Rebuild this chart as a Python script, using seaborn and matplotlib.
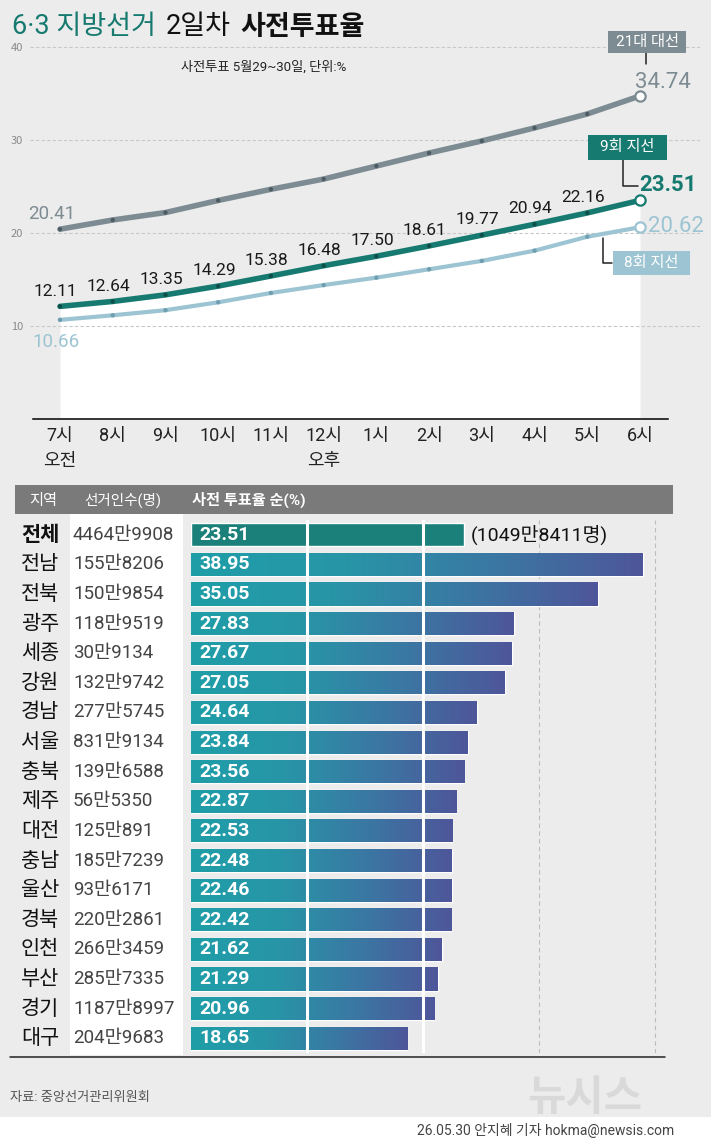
import numpy as np
import pandas as pd
import matplotlib
matplotlib.use("Agg")
import matplotlib.pyplot as plt
import seaborn as sns
from matplotlib import font_manager
from matplotlib.lines import Line2D
from matplotlib.patches import Rectangle
from matplotlib.colors import LinearSegmentedColormap
import matplotlib.transforms as mtrans

# ---------------- data ----------------
hours = ["7시", "8시", "9시", "10시", "11시", "12시", "1시", "2시", "3시", "4시", "5시", "6시"]
local9 = [12.11, 12.64, 13.35, 14.29, 15.38, 16.48, 17.50, 18.61, 19.77, 20.94, 22.16, 23.51]
pres21 = [20.41, 21.4, 22.2, 23.5, 24.7, 25.8, 27.2, 28.6, 29.9, 31.3, 32.8, 34.74]
local8 = [10.66, 11.15, 11.7, 12.55, 13.55, 14.4, 15.2, 16.1, 17.0, 18.1, 19.6, 20.62]
series_names = ["21대 대선", "8회 지선", "9회 지선"]

regions = ["전체", "전남", "전북", "광주", "세종", "강원", "경남", "서울", "충북",
           "제주", "대전", "충남", "울산", "경북", "인천", "부산", "경기", "대구"]
voters = ["4464만9908", "155만8206", "150만9854", "118만9519", "30만9134", "132만9742",
          "277만5745", "831만9134", "139만6588", "56만5350", "125만891", "185만7239",
          "93만6171", "220만2861", "266만3459", "285만7335", "1187만8997", "204만9683"]
rates = [23.51, 38.95, 35.05, 27.83, 27.67, 27.05, 24.64, 23.84, 23.56,
         22.87, 22.53, 22.48, 22.46, 22.42, 21.62, 21.29, 20.96, 18.65]
total_voted = "(1049만8411명)"

# ---------------- style ----------------
sns.set_style("white")
avail = {f.name for f in font_manager.fontManager.ttflist}
cjk = [n for n in ["Noto Sans CJK KR", "Noto Sans CJK JP", "Noto Sans CJK SC",
                   "Noto Sans CJK TC"] if n in avail]
if not cjk:
    cjk = sorted(n for n in avail if "CJK" in n)
if not cjk:
    cjk = ["Noto Sans CJK KR"]
cjk = cjk[:1]
latin = [n for n in ["Liberation Sans Narrow", "Roboto", "Liberation Sans"] if n in avail][:1]
KR = cjk + ["DejaVu Sans"]
NARROW = latin + cjk + ["DejaVu Sans"]
plt.rcParams["font.family"] = KR
plt.rcParams["axes.unicode_minus"] = False

BG = "#ececec"
TEAL = "#177a70"
GRAY = "#7d8c92"
LBLUE = "#9cc4d2"

W, H = 711, 1146
fig = plt.figure(figsize=(W / 100, H / 100), dpi=100, facecolor=BG)


def fx(px):
    return px / W


def fy(py):
    return 1 - py / H


# ---------------- line chart ----------------
X0, STEP, YPU = 60, 580 / 11, 9.3
ax1 = fig.add_axes([fx(30), fy(419), fx(700) - fx(30), fy(30) - fy(419)])
ax1.patch.set_alpha(0)

pos = list(range(len(hours)))
ldf = pd.DataFrame({"pos": pos * 3,
                    "series": np.repeat(series_names, len(hours)),
                    "value": pres21 + local8 + local9})

ax1.fill_between(pos, 0, local9, color="white", lw=0, zorder=1)
for v in [10, 20, 30, 40]:
    ax1.axhline(v, color="#c8c8c8", ls=(0, (3, 2)), lw=0.8, zorder=1.5)

styles = {"21대 대선": (GRAY, 4.0, "#4d5c62"),
          "8회 지선": (LBLUE, 3.0, "#6e9fb1"),
          "9회 지선": (TEAL, 4.0, "#0d4f48")}
for name in series_names:
    col, lw, dot = styles[name]
    sub = ldf[ldf["series"] == name]
    sns.lineplot(data=sub, x="pos", y="value", color=col, linewidth=lw,
                 ax=ax1, zorder=3, legend=False, sort=False)
    sns.scatterplot(data=sub.iloc[:-1], x="pos", y="value", color=dot, s=10,
                    edgecolor="none", ax=ax1, zorder=4, legend=False)
    sns.scatterplot(data=sub.iloc[-1:], x="pos", y="value", color="white", s=55,
                    edgecolor=col, linewidth=1.6, ax=ax1, zorder=5, legend=False)

ax1.set_xlim((30 - X0) / STEP, (700 - X0) / STEP)
ax1.set_ylim(0, (419 - 30) / YPU)
for s in ["top", "right", "left"]:
    ax1.spines[s].set_visible(False)
ax1.spines["bottom"].set_bounds((33 - X0) / STEP, (668 - X0) / STEP)
ax1.spines["bottom"].set_color("black")
ax1.spines["bottom"].set_linewidth(1.1)
ax1.set_xticks(pos)
ax1.set_xticklabels(hours, fontfamily=NARROW, fontsize=13, color="#222222")
ax1.tick_params(axis="x", direction="in", length=6, width=1, pad=6, color="black")
ax1.set_yticks([10, 20, 30, 40])
ax1.set_yticklabels(["10", "20", "30", "40"], fontsize=8, color="#8a8a8a")
ax1.tick_params(axis="y", length=0, pad=5)
ax1.set_xlabel("")
ax1.set_ylabel("")

for i, v in enumerate(local9[:-1]):
    ax1.annotate(f"{v:.2f}", (i, v), xytext=(-3, 11), textcoords="offset points",
                 ha="center", va="center", fontsize=12.5, family=NARROW,
                 color="#1a1a1a", zorder=6)

tr1 = mtrans.blended_transform_factory(ax1.transData, fig.transFigure)
fig.text(0, fy(461), "오전", transform=tr1, ha="center", va="center",
         fontsize=13, color="#222222")
fig.text(5, fy(461), "오후", transform=tr1, ha="center", va="center",
         fontsize=13, color="#222222")

# end & start labels
fig.text(fx(52), fy(214), f"{pres21[0]:.2f}", ha="center", va="center",
         fontsize=13.5, family=NARROW, color=GRAY)
fig.text(fx(56), fy(342), f"{local8[0]:.2f}", ha="center", va="center",
         fontsize=13.5, family=NARROW, color=LBLUE)
fig.text(fx(663), fy(82), f"{pres21[-1]:.2f}", ha="center", va="center",
         fontsize=16, family=NARROW, color=GRAY)
fig.text(fx(668), fy(185), f"{local9[-1]:.2f}", ha="center", va="center",
         fontsize=16, family=NARROW, color=TEAL, fontweight="bold")
fig.text(fx(676), fy(226), f"{local8[-1]:.2f}", ha="center", va="center",
         fontsize=16, family=NARROW, color=LBLUE)

# legend boxes
def tag(xc, yc, text, color, w, h):
    fig.patches.append(Rectangle((fx(xc - w / 2), fy(yc + h / 2)), w / W, h / H,
                                 transform=fig.transFigure, facecolor=color,
                                 edgecolor="none", zorder=5))
    fig.text(fx(xc), fy(yc), text, ha="center", va="center", fontsize=11,
             family=NARROW, color="white", zorder=6)


tag(647, 42, series_names[0], GRAY, 78, 22)
tag(627, 147, series_names[2], TEAL, 79, 25)
tag(651, 263, series_names[1], LBLUE, 77, 24)


def seg(pts, color="#222222", lw=1.1):
    xs = [fx(p[0]) for p in pts]
    ys = [fy(p[1]) for p in pts]
    fig.lines.append(Line2D(xs, ys, transform=fig.transFigure, color=color, lw=lw))


seg([(646, 53), (646, 64)])
seg([(623, 160), (623, 186), (638, 186)])
seg([(603, 238), (603, 263), (612, 263)])

# title
fig.text(fx(12), fy(27), "6·3 지방선거", ha="left", va="center", fontsize=19.5,
         family=NARROW, color=TEAL)
fig.text(fx(166), fy(27), "2일차", ha="left", va="center", fontsize=19.5,
         family=NARROW, color="#111111")
fig.text(fx(240), fy(27), "사전투표율", ha="left", va="center", fontsize=19.5,
         family=KR, color="#111111", fontweight="bold")
fig.text(fx(181), fy(67), "사전투표 5월29~30일, 단위:%", ha="left", va="center",
         fontsize=9.5, family=NARROW, color="#222222")

# ---------------- bar chart ----------------
B0, BPU = 191, 11.6
fig.patches.append(Rectangle((fx(15), fy(514)), (673 - 15) / W, (514 - 485) / H,
                             transform=fig.transFigure, facecolor="#7a7a7a",
                             edgecolor="none", zorder=0))
fig.patches.append(Rectangle((fx(70), fy(1055)), (183 - 70) / W, (1055 - 514) / H,
                             transform=fig.transFigure, facecolor="white",
                             edgecolor="none", zorder=0))
fig.text(fx(29), fy(500), "지역", ha="left", va="center", fontsize=11,
         color="white")
fig.text(fx(84), fy(500), "선거인수(명)", ha="left", va="center", fontsize=10.5,
         family=NARROW, color="white")
fig.text(fx(192), fy(500), "사전 투표율 순(%)", ha="left", va="center", fontsize=11,
         family=NARROW, color="white", fontweight="bold")

ax2 = fig.add_axes([fx(B0), fy(1053), fx(700) - fx(B0), fy(520) - fy(1053)])
ax2.patch.set_alpha(0)
bdf = pd.DataFrame({"region": regions, "rate": rates})
sns.barplot(data=bdf, x="rate", y="region", orient="h", width=0.78,
            color="#1f9ca7", saturation=1, ax=ax2, zorder=2)

xmax = (700 - B0) / BPU
cmap = LinearSegmentedColormap.from_list("g", ["#1f9ea8", "#2796a7", "#3a78a3", "#4e569a"])
grad = np.linspace(0, 1, 256).reshape(1, -1)
for i, p in enumerate(list(ax2.patches)):
    if i == 0:
        p.set_facecolor("#1a8079")
        continue
    x0, w0, y0, h0 = p.get_x(), p.get_width(), p.get_y(), p.get_height()
    im = ax2.imshow(grad, cmap=cmap, extent=[x0, x0 + w0, y0 + h0, y0],
                    aspect="auto", zorder=2.5, interpolation="bilinear")
    im.set_clip_path(p)

ax2.set_xlim(0, xmax)
ax2.set_ylim(len(regions) - 0.5, -0.5)
ax2.set_aspect("auto")
for v in [10, 20]:
    ax2.axvline(v, color="white", lw=2.2, zorder=3)
for v in [30, 40]:
    ax2.axvline(v, color="#bdbdbd", ls=(0, (4, 3)), lw=0.8, zorder=1)
for s in ax2.spines.values():
    s.set_visible(False)
ax2.set_xticks([])
ax2.set_yticks([])
ax2.set_xlabel("")
ax2.set_ylabel("")

for i, v in enumerate(rates):
    ax2.text(0.7, i, f"{v:.2f}", ha="left", va="center", fontsize=14,
             family=NARROW, color="white", fontweight="bold", zorder=6)
ax2.text((471 - B0) / BPU, 0, total_voted, ha="left", va="center", fontsize=14,
         family=NARROW, color="#111111", zorder=6)

tr2 = mtrans.blended_transform_factory(fig.transFigure, ax2.transData)
for i, (r, n) in enumerate(zip(regions, voters)):
    fig.text(fx(40), i, r, transform=tr2, ha="center", va="center", fontsize=15,
             color="#111111", fontweight="bold" if i == 0 else "normal")
    fig.text(fx(73), i, n, transform=tr2, ha="left", va="center", fontsize=13.5,
             family=NARROW, color="#444444")

seg([(10, 1057), (665, 1057)], color="#222222", lw=1.1)

# ---------------- footer ----------------
fig.text(fx(10), fy(1097), "자료: 중앙선거관리위원회", ha="left", va="center",
         fontsize=9.5, family=NARROW, color="#555555")
fig.text(fx(527), fy(1098), "뉴시스", ha="left", va="center", fontsize=30,
         fontweight="bold", color="#d9d9d9")
fig.patches.append(Rectangle((0, 0), 1, (H - 1117) / H, transform=fig.transFigure,
                             facecolor="white", edgecolor="none", zorder=0))
fig.text(fx(674), fy(1131), "26.05.30 안지혜 기자 hokma@newsis.com", ha="right",
         va="center", fontsize=10, family=NARROW, color="#444444")

fig.savefig("out.png", dpi=100, facecolor=BG)
